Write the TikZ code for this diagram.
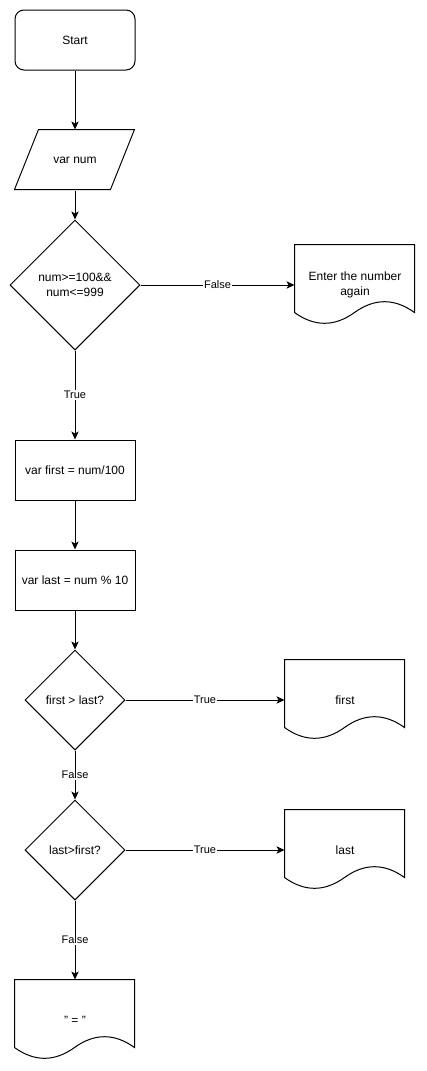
\documentclass[tikz,border=0pt]{standalone}
\usepackage{fontspec}
\setmainfont{Liberation Sans}
\usetikzlibrary{shapes.geometric,arrows.meta}

\tikzset{
  startbox/.style={draw, rounded corners=6.75pt, minimum width=90pt, minimum height=45pt, inner sep=0pt},
  iobox/.style={minimum width=90pt, minimum height=45pt, inner sep=0pt},
  process/.style={draw, minimum width=90pt, minimum height=45pt, inner sep=0pt},
  decision/.style={draw, diamond, inner sep=0pt, align=center},
  docbox/.style={minimum width=90pt, minimum height=60pt, inner sep=0pt, align=center},
  edgelabel/.style={fill=white, inner sep=1pt, font=\fontsize{8.25}{10}\selectfont},
  flow/.style={-{Stealth[length=6pt, width=5.5pt, inset=1.5pt]}}
}

% document shape: box with a wavy bottom edge
\newcommand{\docwave}[1]{%
  \draw[shift={(#1.north west)}] (0,0) -- (120,0) -- (120,68)
    .. controls (100,53.6) and (80,53.6) .. (60,68)
    .. controls (40,82.4) and (20,82.4) .. (0,68) -- cycle;}
% slanted input box
\newcommand{\ioslant}[1]{%
  \draw[shift={(#1.north west)}] (24,0) -- (120,0) -- (96,60) -- (0,60) -- cycle;}

\begin{document}
\begin{tikzpicture}[x=0.75pt, y=-0.75pt, line width=0.75pt, font=\fontsize{9}{11}\selectfont]
  \useasboundingbox (0,0) rectangle (426,1071);

  \node[startbox] (start) at (75, 40) {Start};
  \node[iobox] (input) at (75, 160) {var num};
  \ioslant{input}
  \node[decision, minimum width=97.5pt, minimum height=97.5pt] (check) at (75, 285) {num>=100\&\&\\num<=999};
  \node[docbox] (again) at (355, 285) {Enter the number\\again};
  \docwave{again}

  \node[process] (first) at (75, 470) {var first = num/100};
  \node[process] (last) at (75, 580) {var last = num \% 10};

  \node[decision, minimum width=75pt, minimum height=75pt] (cmpfirst) at (75, 700) {first > last?};
  \node[docbox] (outfirst) at (345, 700) {first};
  \docwave{outfirst}

  \node[decision, minimum width=75pt, minimum height=75pt] (cmplast) at (75, 850) {last>first?};
  \node[docbox] (outlast) at (345, 850) {last};
  \docwave{outlast}

  \node[docbox] (outeq) at (75, 1020) {\symbol{34} = \symbol{34}};
  \docwave{outeq}

  \draw[flow] (start) -- (input);
  \draw[flow] (input) -- (check);
  \draw[flow] (check) -- node[edgelabel] {False} (again);
  \draw[flow] (check) -- node[edgelabel] {True} (first);
  \draw[flow] (first) -- (last);
  \draw[flow] (last) -- (cmpfirst);
  \draw[flow] (cmpfirst) -- node[edgelabel] {True} (outfirst);
  \draw[flow] (cmpfirst) -- node[edgelabel] {False} (cmplast);
  \draw[flow] (cmplast) -- node[edgelabel] {True} (outlast);
  \draw[flow] (cmplast) -- node[edgelabel] {False} (outeq);
\end{tikzpicture}
\end{document}
